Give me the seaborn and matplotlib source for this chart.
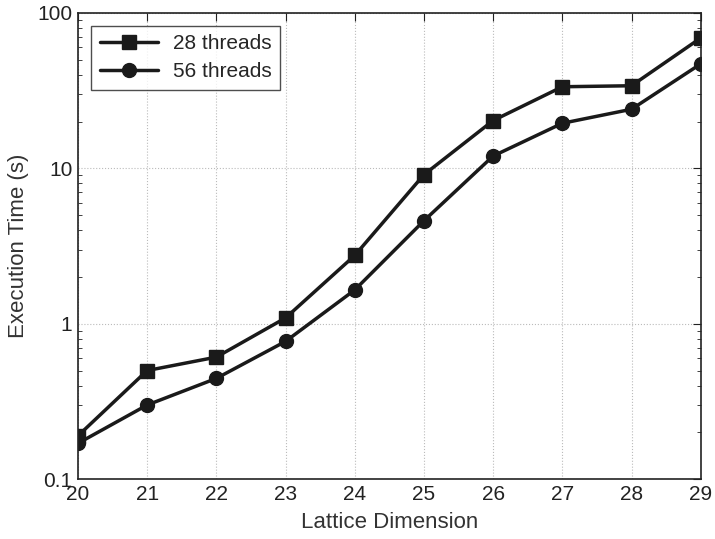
import matplotlib
matplotlib.use("Agg")
import matplotlib.pyplot as plt
import seaborn as sns
import pandas as pd
import numpy as np

# Data
lattice_dim = [20, 21, 22, 23, 24, 25, 26, 27, 28, 29]
t28 = [0.19, 0.50, 0.61, 1.09, 2.75, 9.1, 20.3, 33.5, 34.0, 69.0]
t56 = [0.17, 0.30, 0.445, 0.77, 1.65, 4.6, 12.0, 19.5, 24.0, 47.0]

df = pd.DataFrame({
    "dim": lattice_dim * 2,
    "time": t28 + t56,
    "threads": ["28 threads"] * len(t28) + ["56 threads"] * len(t56),
})

sns.set_style("white")
plt.rcParams['font.family'] = ['Liberation Sans', 'DejaVu Sans']

fig = plt.figure(figsize=(7.15, 5.39), dpi=100)
ax = fig.add_axes([0.109, 0.111, 0.871, 0.865])

sns.lineplot(data=df, x="dim", y="time", hue="threads", style="threads",
             markers={"28 threads": "s", "56 threads": "o"}, dashes=False,
             palette={"28 threads": "#1a1a1a", "56 threads": "#1a1a1a"},
             linewidth=2.5, markersize=10, markeredgecolor="#1a1a1a",
             markeredgewidth=1, ax=ax)

ax.set_yscale("log")
ax.set_ylim(0.1, 100)
ax.set_xlim(20, 29)
ax.set_xticks(lattice_dim)
ax.set_yticks([0.1, 1, 10, 100])
ax.set_yticklabels(["0.1", "1", "10", "100"])
ax.grid(True, which="major", linestyle=":", color="#bbbbbb", linewidth=0.8)
ax.tick_params(axis="both", which="both", direction="in", top=True, right=True,
               labelsize=15, colors="#222222", pad=4)
ax.tick_params(axis="both", which="major", length=6)
ax.tick_params(axis="y", which="minor", length=3, left=True, right=True)
for s in ax.spines.values():
    s.set_color("#222222")
    s.set_linewidth(1.2)

ax.set_xlabel("Lattice Dimension", fontsize=16, color="#333333", labelpad=6)
ax.set_ylabel("Execution Time (s)", fontsize=16, color="#333333", labelpad=6)

leg = ax.legend(loc="upper left", fontsize=15, frameon=True, fancybox=False,
                edgecolor="#222222", handlelength=2.8, borderpad=0.4,
                labelspacing=0.45, handletextpad=0.7,
                bbox_to_anchor=(0.005, 0.995))
leg.get_frame().set_linewidth(1.0)
leg.set_title(None)
for h in leg.legend_handles:
    h.set_markeredgecolor("#1a1a1a")

fig.savefig("out.png", dpi=100)
